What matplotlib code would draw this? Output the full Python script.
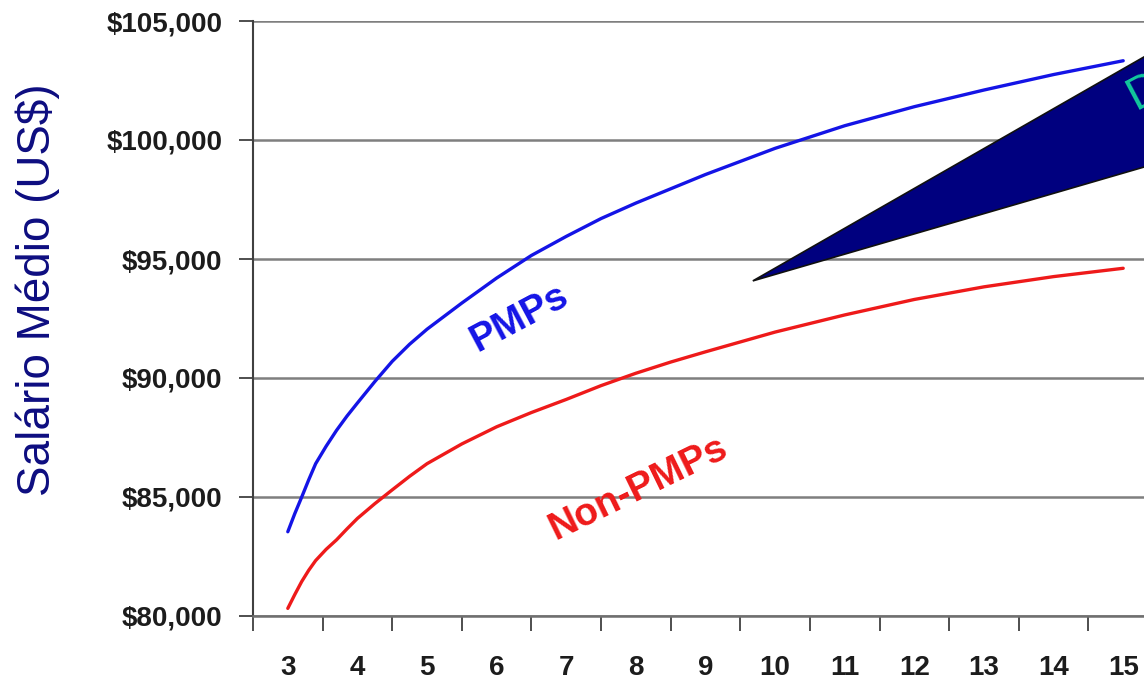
import matplotlib
matplotlib.use('Agg')
import matplotlib.pyplot as plt
import numpy as np

# anos de experiencia (categorias) e salario medio
years = [3, 4, 5, 6, 7, 8, 9, 10, 11, 12, 13, 14, 15]

pmp_x = [3, 3.1, 3.2, 3.3, 3.4, 3.55, 3.7, 3.85, 4, 4.25, 4.5, 4.75, 5,
         5.5, 6, 6.5, 7, 7.5, 8, 8.5, 9, 10, 11, 12, 13, 14, 15]
pmp_y = [83540, 84300, 85000, 85720, 86400, 87130, 87800, 88400, 88950,
         89850, 90700, 91420, 92050, 93150, 94200, 95150, 95950, 96700,
         97350, 97950, 98550, 99650, 100600, 101400, 102100, 102750, 103330]

non_x = [3, 3.1, 3.2, 3.3, 3.4, 3.55, 3.7, 3.85, 4, 4.25, 4.5, 4.75, 5,
         5.5, 6, 6.5, 7, 7.5, 8, 8.5, 9, 10, 11, 12, 13, 14, 15]
non_y = [80320, 80900, 81450, 81920, 82330, 82800, 83200, 83660, 84100,
         84720, 85300, 85870, 86400, 87230, 87950, 88550, 89100, 89680,
         90200, 90670, 91100, 91930, 92650, 93300, 93830, 94260, 94610]

# cunha da "Diferença"
wedge_x = [9.68, 15.8, 15.8]
wedge_y = [94080, 104330, 99290]

y_ticks = [80000, 85000, 90000, 95000, 100000, 105000]
y_labels = ['$80,000', '$85,000', '$90,000', '$95,000', '$100,000', '$105,000']

plt.rcParams['font.family'] = ['Liberation Sans', 'DejaVu Sans']

W, H = 1144, 681
fig = plt.figure(figsize=(W / 100, H / 100), dpi=100)
ax = fig.add_axes([253 / W, 65 / H, (1158 - 253) / W, 595 / H])

ax.set_xlim(2.5, 15.5)
ax.set_ylim(80000, 105000)

for v in y_ticks:
    ax.axhline(v, color='#7f7f7f', linewidth=1.8, zorder=1)

ax.plot(pmp_x, pmp_y, color='#1414E6', linewidth=2.4, zorder=3,
        solid_capstyle='round')
ax.plot(non_x, non_y, color='#EE1A1A', linewidth=2.4, zorder=3,
        solid_capstyle='round')

ax.fill(wedge_x, wedge_y, facecolor='#00007F', edgecolor='#101010',
        linewidth=1.2, zorder=4)

ax.text(6.33, 92520, 'PMPs', color='#1414E6', fontsize=28, fontweight='bold',
        rotation=28, ha='center', va='center', zorder=5)
ax.text(8.03, 85380, 'Non-PMPs', color='#EE1A1A', fontsize=28,
        fontweight='bold', rotation=26, ha='center', va='center', zorder=5)
ax.text(15.17, 101260, 'Diferença', color='#12C89C', fontsize=34,
        rotation=28, rotation_mode='anchor', ha='left', va='baseline',
        zorder=6, clip_on=False)

# spines
for s in ['top', 'right']:
    ax.spines[s].set_visible(False)
ax.spines['left'].set_color('#404040')
ax.spines['left'].set_linewidth(1.5)
ax.spines['bottom'].set_color('#6f6f6f')
ax.spines['bottom'].set_linewidth(1.8)

ax.set_yticks(y_ticks)
ax.set_yticklabels(y_labels, fontsize=20, fontweight='bold', color='#1c1c1c')
ax.tick_params(axis='y', direction='out', length=10, width=1.3,
               color='#404040', pad=12)

ax.set_xticks(np.arange(2.5, 16, 1))
ax.set_xticklabels([])
ax.tick_params(axis='x', which='major', direction='out', length=11,
               width=1.3, color='#404040')
ax.set_xticks(years, minor=True)
ax.set_xticklabels([str(y) for y in years], minor=True, fontsize=20,
                   fontweight='bold', color='#1c1c1c')
ax.tick_params(axis='x', which='minor', length=0, pad=28)

fig.text(38 / W, 1 - 290 / H, 'Salário Médio (US$)', rotation=90,
         ha='center', va='center', fontsize=33, color='#0D0D80')

fig.savefig('out.png', dpi=100)
